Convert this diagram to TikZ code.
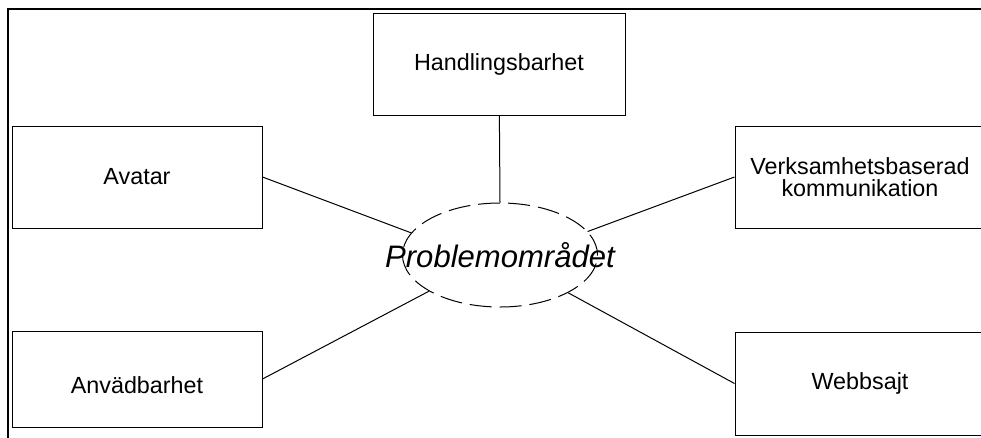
\documentclass[tikz,border=0pt]{standalone}
\usepackage{fontspec}
\setmainfont{Liberation Sans}
\usepackage{tikz}
\usetikzlibrary{shapes.geometric, positioning}
\tikzstyle{link} = [line width=0.75pt]
\tikzstyle{block} = [rectangle, draw, line width=0.75pt, align=center, minimum width=187.5pt, minimum height=76.5pt, font=\fontsize{17.5}{16.7}\selectfont]
\tikzstyle{problem} = [ellipse, draw, dash pattern=on 16.5pt off 6pt, line width=0.75pt, minimum width=146.25pt, minimum height=78pt, inner sep=0pt]

\begin{document}
\begin{tikzpicture}[x=0.75pt, y=-0.75pt]
    \useasboundingbox (0,0) rectangle (981,437);
    % Frame
    \begin{scope}
        \clip (0,0) rectangle (981,437);
        \draw [line width=1.5pt] (7.5,9) rectangle (1000,460);
    \end{scope}
    % Nodes
    \node (prob) [problem, label={[font=\fontsize{23.3}{28}\selectfont\itshape]center:Problemområdet}] at (500,255) {};
    \node (handl) [block, minimum width=189pt] at (499,64) {Handlingsbarhet};
    \node (avatar) [block] at (137,177) {Avatar};
    \node (verks) [block] at (860,177) {Verksamhetsbaserad\\kommunikation};
    \node (anvad) [block, minimum height=72pt, text height=21.8pt, text depth=0pt] at (137,379) {Anvädbarhet};
    \node (webb) [block, minimum height=77.25pt] at (860,383.5) {Webbsajt};
    % Connectors
    \draw [link] (handl) -- (prob.north);
    \draw [link] (avatar.east) -- (prob.166);
    \draw [link] (verks.west) -- (prob.15);
    \draw [link] (anvad.east) -- (prob.207);
    \draw [link] (webb.west) -- (prob.331);
\end{tikzpicture}
\end{document}
